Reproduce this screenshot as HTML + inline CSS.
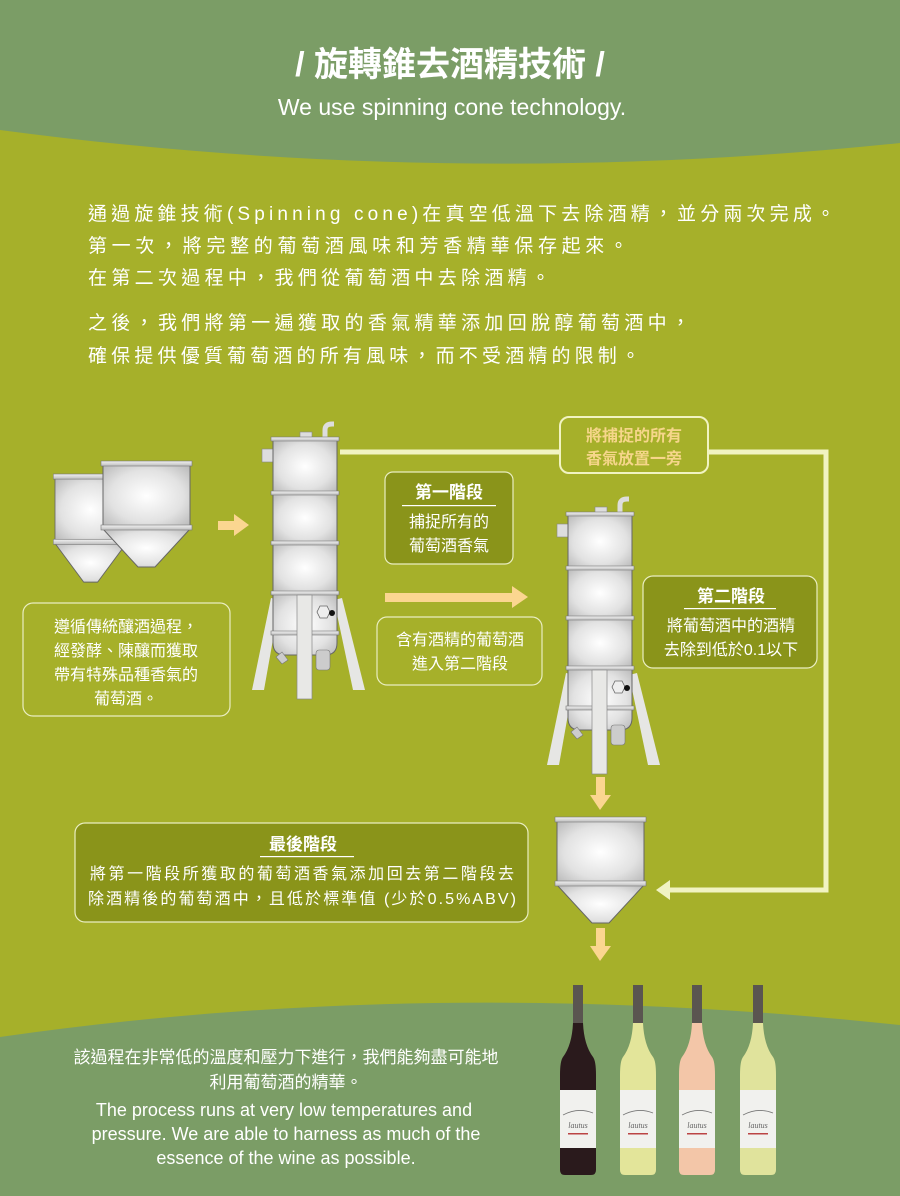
<!DOCTYPE html>
<html><head><meta charset="utf-8"><style>
html,body{margin:0;padding:0;width:900px;height:1196px;overflow:hidden;background:#a6b02a}
svg{display:block}
text{font-family:"Liberation Sans","Noto Sans CJK TC",sans-serif}
</style></head><body>
<svg width="900" height="1196" viewBox="0 0 900 1196" xmlns="http://www.w3.org/2000/svg">
<defs>
<radialGradient id="steel" cx="0.5" cy="0.5" r="0.7">
<stop offset="0" stop-color="#ffffff"/><stop offset="0.6" stop-color="#e2e2e2"/><stop offset="1" stop-color="#b8b8b8"/>
</radialGradient>
<linearGradient id="rim" x1="0" y1="0" x2="0" y2="1"><stop offset="0" stop-color="#f2f2f2"/><stop offset="1" stop-color="#bdbdbd"/></linearGradient>
<g id="col">
<polygon points="252,690 264,690 280,600 271,598" fill="#e6e6e4"/>
<polygon points="353,690 365,690 342,598 334,600" fill="#e6e6e4"/>
<rect x="300" y="432" width="12" height="6" fill="#ddd" stroke="#888" stroke-width="0.6"/>
<path d="M325,438 L325,430 Q325,424 332,424 L334,424" fill="none" stroke="#ddd" stroke-width="5"/>
<rect x="262" y="449" width="11" height="13" fill="#ddd" stroke="#888" stroke-width="0.6"/>
<path d="M273,593 L337,593 L337,643 Q337,655 325,655 L285,655 Q273,655 273,643 Z" fill="url(#steel)" stroke="#666" stroke-width="1"/>
<rect x="273" y="440" width="64" height="53" fill="url(#steel)" stroke="#666" stroke-width="1"/>
<rect x="273" y="493" width="64" height="50" fill="url(#steel)" stroke="#666" stroke-width="1"/>
<rect x="273" y="543" width="64" height="50" fill="url(#steel)" stroke="#666" stroke-width="1"/>
<rect x="271" y="437" width="68" height="4" fill="url(#rim)" stroke="#777" stroke-width="0.6"/>
<rect x="271" y="491" width="68" height="4" fill="url(#rim)" stroke="#777" stroke-width="0.6"/>
<rect x="271" y="541" width="68" height="4" fill="url(#rim)" stroke="#777" stroke-width="0.6"/>
<rect x="271" y="591" width="68" height="4" fill="url(#rim)" stroke="#777" stroke-width="0.6"/>
<rect x="271" y="631" width="68" height="4" fill="url(#rim)" stroke="#777" stroke-width="0.6"/>
<polygon points="276,657 282,652 288,660 282,664" fill="#ccc" stroke="#777" stroke-width="0.6"/>
<rect x="297" y="595" width="15" height="104" fill="#e8e8e6" stroke="#888" stroke-width="0.7"/>
<rect x="316" y="650" width="14" height="20" rx="3" fill="#ccc" stroke="#777" stroke-width="0.6"/>
<polygon points="320,606 327,606 330,612 327,618 320,618 317,612" fill="#eee" stroke="#666" stroke-width="0.8"/>
<circle cx="332" cy="613" r="3" fill="#111"/>
</g>
<g id="hop">
<polygon points="0,68 87,68 52,106 35,106" fill="url(#steel)" stroke="#666" stroke-width="1"/>
<rect x="0" y="4" width="87" height="62" fill="url(#steel)" stroke="#666" stroke-width="1"/>
<rect x="-2" y="0" width="91" height="5" fill="url(#rim)" stroke="#777" stroke-width="0.6"/>
<rect x="-2" y="64" width="91" height="5" fill="url(#rim)" stroke="#777" stroke-width="0.6"/>
</g>
<g id="bottle">
<rect x="13" y="0" width="10" height="38" fill="#5a5550"/>
<path d="M13,38 L23,38 Q24,60 33,72 Q36,76 36,90 L36,185 Q36,190 31,190 L5,190 Q0,190 0,185 L0,90 Q0,76 3,72 Q12,60 13,38 Z" fill="currentColor"/>
<rect x="0" y="105" width="36" height="58" fill="#f1f1ee"/>
<path d="M3,130 Q18,122 33,128" fill="none" stroke="#777" stroke-width="0.8"/>
<text x="18" y="143" font-size="8" font-style="italic" fill="#666" text-anchor="middle" style="font-family:'Liberation Serif',serif">lautus</text>
<rect x="8" y="148" width="20" height="1.5" fill="#b44"/>
</g>
</defs>
<path d="M0,0 H900 V143 Q450,190 0,130 Z" fill="#7b9d66"/>
<path d="M0,1037 Q430,975 900,1025 V1196 H0 Z" fill="#7b9d66"/>
<text x="450" y="76" font-size="34" font-weight="bold" fill="#fff" text-anchor="middle">/ 旋轉錐去酒精技術 /</text>
<text x="452" y="115" font-size="23" fill="#fff" text-anchor="middle" style="font-weight:300">We use spinning cone technology.</text>
<g font-size="19" fill="#fff">
<text x="88" y="220" textLength="747" lengthAdjust="spacing">通過旋錐技術(Spinning cone)在真空低溫下去除酒精，並分兩次完成。</text>
<text x="88" y="252" textLength="540" lengthAdjust="spacing">第一次，將完整的葡萄酒風味和芳香精華保存起來。</text>
<text x="88" y="284" textLength="462" lengthAdjust="spacing">在第二次過程中，我們從葡萄酒中去除酒精。</text>
<text x="88" y="329" textLength="602" lengthAdjust="spacing">之後，我們將第一遍獲取的香氣精華添加回脫醇葡萄酒中，</text>
<text x="88" y="362" textLength="552" lengthAdjust="spacing">確保提供優質葡萄酒的所有風味，而不受酒精的限制。</text>
</g>
<path d="M340,452 H826 V890 H668" fill="none" stroke="#f1f3c2" stroke-width="5"/>
<polygon points="656,890 670,880 670,900" fill="#f1f3c2"/>
<rect x="560" y="417" width="148" height="56" rx="9" fill="#a6b02a" stroke="#f1f3c2" stroke-width="2"/>
<text x="634" y="441" font-size="16" font-weight="bold" fill="#f6d68a" text-anchor="middle">將捕捉的所有</text>
<text x="634" y="464" font-size="16" font-weight="bold" fill="#f6d68a" text-anchor="middle">香氣放置一旁</text>
<use href="#hop" transform="translate(55,474) scale(0.82,1.02)"/>
<use href="#hop" transform="translate(103,461)"/>
<use href="#hop" transform="translate(557,817)"/>
<use href="#col"/>
<use href="#col" transform="translate(295,75)"/>
<g fill="#fbd690">
<rect x="218" y="521" width="16" height="9"/><polygon points="234,514 249,525 234,536"/>
<rect x="385" y="593" width="128" height="9"/><polygon points="512,586 528,597 512,608"/>
<rect x="596" y="777" width="9" height="18"/><polygon points="590,795 611,795 600,810"/>
<rect x="596" y="928" width="9" height="18"/><polygon points="590,946 611,946 600,961"/>
</g>
<rect x="385" y="472" width="128" height="92" rx="8" fill="#8a941a" stroke="#e9edc0" stroke-width="1.2"/>
<text x="449" y="498" font-size="17" font-weight="bold" fill="#fff" text-anchor="middle">第一階段</text>
<rect x="402" y="505" width="94" height="1.2" fill="#fff"/>
<text x="449" y="527" font-size="16" fill="#fff" text-anchor="middle">捕捉所有的</text>
<text x="449" y="551" font-size="16" fill="#fff" text-anchor="middle">葡萄酒香氣</text>
<rect x="643" y="576" width="174" height="92" rx="10" fill="#8a941a" stroke="#e9edc0" stroke-width="1.2"/>
<text x="731" y="602" font-size="17" font-weight="bold" fill="#fff" text-anchor="middle">第二階段</text>
<rect x="684" y="608" width="92" height="1.2" fill="#fff"/>
<text x="731" y="631" font-size="16" fill="#fff" text-anchor="middle">將葡萄酒中的酒精</text>
<text x="731" y="655" font-size="16" fill="#fff" text-anchor="middle">去除到低於0.1以下</text>
<rect x="23" y="603" width="207" height="113" rx="10" fill="none" stroke="#e9edc0" stroke-width="1.2"/>
<g font-size="16" fill="#fff" text-anchor="middle">
<text x="126" y="632">遵循傳統釀酒過程，</text>
<text x="126" y="656">經發酵、陳釀而獲取</text>
<text x="126" y="680">帶有特殊品種香氣的</text>
<text x="126" y="704">葡萄酒。</text>
</g>
<rect x="377" y="617" width="165" height="68" rx="10" fill="none" stroke="#e9edc0" stroke-width="1.2"/>
<text x="460" y="645" font-size="16" fill="#fff" text-anchor="middle">含有酒精的葡萄酒</text>
<text x="460" y="669" font-size="16" fill="#fff" text-anchor="middle">進入第二階段</text>
<rect x="75" y="823" width="453" height="99" rx="10" fill="#8a941a" stroke="#e9edc0" stroke-width="1.2"/>
<text x="303" y="850" font-size="17" font-weight="bold" fill="#fff" text-anchor="middle">最後階段</text>
<rect x="260" y="856" width="94" height="1.2" fill="#fff"/>
<text x="302" y="879" font-size="16" fill="#fff" text-anchor="middle" textLength="424" lengthAdjust="spacing">將第一階段所獲取的葡萄酒香氣添加回去第二階段去</text>
<text x="302" y="904" font-size="16" fill="#fff" text-anchor="middle" textLength="428" lengthAdjust="spacing">除酒精後的葡萄酒中，且低於標準值 (少於0.5%ABV)</text>
<g font-size="17" fill="#fff" text-anchor="middle">
<text x="286" y="1063">該過程在非常低的溫度和壓力下進行，我們能夠盡可能地</text>
<text x="286" y="1088">利用葡萄酒的精華。</text>
<text x="284" y="1116" font-size="18">The process runs at very low temperatures and</text>
<text x="286" y="1140" font-size="18">pressure. We are able to harness as much of the</text>
<text x="286" y="1164" font-size="18">essence of the wine as possible.</text>
</g>
<use href="#bottle" transform="translate(560,985)" style="color:#2a1a1c"/>
<use href="#bottle" transform="translate(620,985)" style="color:#e3e59a"/>
<use href="#bottle" transform="translate(679,985)" style="color:#f3c6a8"/>
<use href="#bottle" transform="translate(740,985)" style="color:#e0e39c"/>
</svg>
</body></html>
